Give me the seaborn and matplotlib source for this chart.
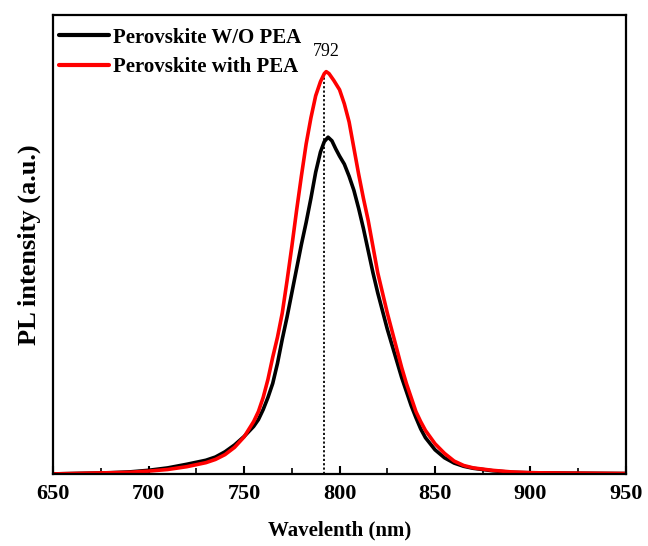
import numpy as np
import pandas as pd
import seaborn as sns
import matplotlib
matplotlib.use("Agg")
import matplotlib.pyplot as plt
from matplotlib.ticker import MultipleLocator

# ------------------- DATA -------------------

wl_no_pea = [650, 660, 670, 680, 690, 700, 710, 720, 730, 735, 740, 745, 750, 755,
             757.5, 760, 762.5, 765, 767.5, 770, 772.5, 775, 777.5, 780, 782.5, 785,
             787.5, 790, 792, 794, 796, 798, 800, 802.5, 805, 807.5, 810, 812.5, 815,
             817.5, 820, 822.5, 825, 827.5, 830, 832.5, 835, 837.5, 840, 842.5, 845,
             850, 855, 860, 865, 870, 880, 890, 900, 920, 950]
pl_no_pea = [0.000, 0.001, 0.002, 0.003, 0.005, 0.009, 0.015, 0.024, 0.034, 0.042,
             0.055, 0.072, 0.093, 0.118, 0.135, 0.160, 0.190, 0.225, 0.275, 0.335,
             0.390, 0.450, 0.510, 0.570, 0.625, 0.685, 0.750, 0.800, 0.826, 0.837,
             0.828, 0.808, 0.790, 0.770, 0.740, 0.705, 0.660, 0.610, 0.555, 0.500,
             0.450, 0.405, 0.360, 0.320, 0.280, 0.240, 0.205, 0.170, 0.140, 0.112,
             0.090, 0.060, 0.040, 0.027, 0.019, 0.014, 0.008, 0.004, 0.003, 0.002,
             0.001]

wl_pea = [650, 660, 670, 680, 690, 700, 710, 720, 730, 735, 740, 745, 750, 755,
          757.5, 760, 762.5, 765, 767.5, 770, 772.5, 775, 777.5, 780, 782.5, 785,
          787.5, 790, 792, 793, 794.5, 797, 800, 802.5, 805, 807.5, 810, 812.5, 815,
          817.5, 820, 822.5, 825, 827.5, 830, 832.5, 835, 837.5, 840, 842.5, 845,
          850, 855, 860, 865, 870, 880, 890, 900, 920, 950]
pl_pea = [0.000, 0.001, 0.002, 0.003, 0.004, 0.007, 0.011, 0.018, 0.028, 0.036,
          0.048, 0.066, 0.092, 0.130, 0.155, 0.190, 0.235, 0.290, 0.340, 0.400,
          0.480, 0.565, 0.655, 0.740, 0.820, 0.885, 0.940, 0.975, 0.995, 1.000,
          0.995, 0.978, 0.955, 0.920, 0.875, 0.810, 0.745, 0.685, 0.630, 0.565,
          0.500, 0.450, 0.400, 0.355, 0.310, 0.265, 0.225, 0.190, 0.155, 0.130,
          0.108, 0.075, 0.051, 0.032, 0.021, 0.015, 0.009, 0.005, 0.003, 0.002,
          0.001]

labels = ["Perovskite W/O PEA", "Perovskite with PEA"]
colors = ["black", "#ff0000"]
peak_nm = 792

df = pd.concat([
    pd.DataFrame({"Wavelength": wl_no_pea, "PL": pl_no_pea, "Sample": labels[0]}),
    pd.DataFrame({"Wavelength": wl_pea, "PL": pl_pea, "Sample": labels[1]}),
])

# ------------------- PLOT -------------------

sns.set_style("ticks")
plt.rcParams["font.family"] = ["Liberation Serif", "DejaVu Serif"]
plt.rcParams["text.color"] = "black"
plt.rcParams["axes.labelcolor"] = "black"
plt.rcParams["xtick.color"] = "black"
plt.rcParams["axes.edgecolor"] = "black"

fig = plt.figure(figsize=(6.48, 5.46), dpi=100)
ax = fig.add_axes([0.082, 0.132, 0.884, 0.840])

sns.lineplot(data=df, x="Wavelength", y="PL", hue="Sample", hue_order=labels,
             palette=colors, linewidth=2.6, ax=ax, sort=True)

ax.vlines(peak_nm, 0, max(pl_pea), colors="black", linestyles=(0, (1.2, 1.2)),
          linewidth=1.3, zorder=1)
ax.text(peak_nm + 1, max(pl_pea) + 0.03, str(peak_nm), ha="center", va="bottom",
        fontsize=13)

ax.set_xlim(650, 950)
ax.set_ylim(0, 1.14)
ax.xaxis.set_major_locator(MultipleLocator(50))
ax.xaxis.set_minor_locator(MultipleLocator(25))
ax.set_yticks([])
ax.tick_params(axis="x", which="major", direction="in", length=6, width=1.5,
               labelsize=16, pad=7)
ax.tick_params(axis="x", which="minor", direction="in", length=4, width=1.2)
for lbl in ax.get_xticklabels():
    lbl.set_fontweight("bold")
for sp in ax.spines.values():
    sp.set_linewidth(1.6)
    sp.set_visible(True)

ax.set_xlabel("Wavelenth (nm)", fontsize=15, fontweight="bold", labelpad=12)
ax.set_ylabel("PL intensity (a.u.)", fontsize=19, fontweight="bold", labelpad=9)

leg = ax.legend(loc="upper left", bbox_to_anchor=(-0.012, 1.0), frameon=False,
                handlelength=2.4, handletextpad=0.2, borderaxespad=0.2,
                labelspacing=0.45, prop={"size": 15, "weight": "bold"})
for line in leg.get_lines():
    line.set_linewidth(3)

fig.savefig("out.png", dpi=100)
